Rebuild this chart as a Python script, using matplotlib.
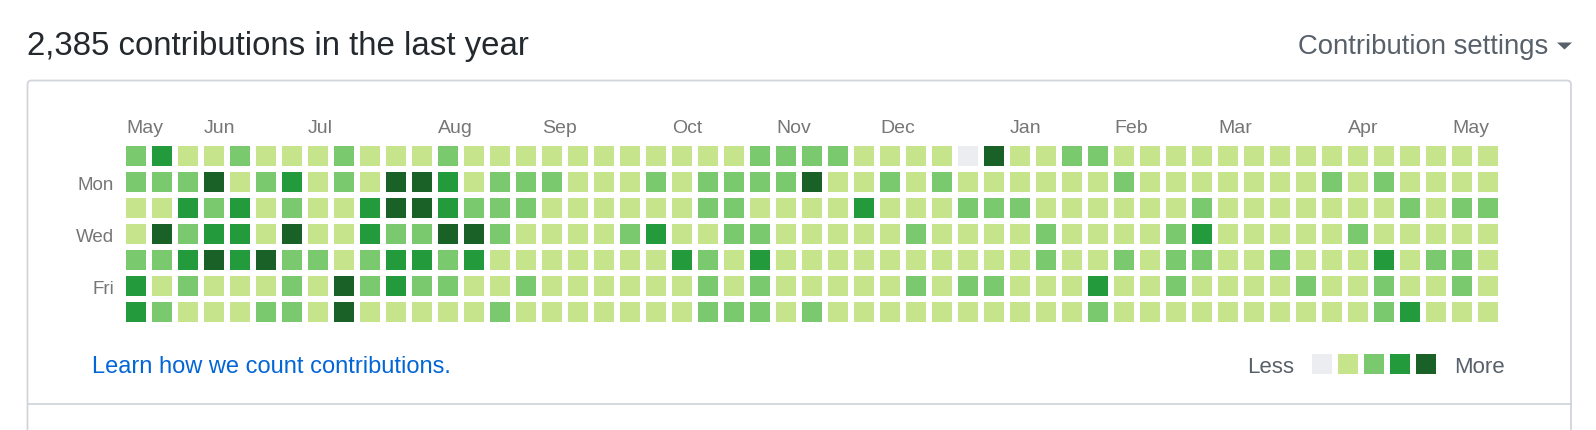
import matplotlib
matplotlib.use("Agg")
import matplotlib.pyplot as plt
from matplotlib.patches import Rectangle, FancyBboxPatch, Polygon
from matplotlib.collections import PatchCollection

# ------------------------------------------------------------
# Contribution levels (0 = none ... 4 = most), one list per weekday,
# 53 weeks from May to May
# ------------------------------------------------------------
sun = [2, 3, 1, 1, 2, 1, 1, 1, 2, 1, 1, 1, 2,
       1, 1, 1, 1, 1, 1, 1, 1, 1, 1, 1, 2, 2,
       2, 2, 1, 1, 1, 1, 0, 4, 1, 1, 2, 2, 1,
       1, 1, 1, 1, 1, 1, 1, 1, 1, 1, 1, 1, 1, 1]
mon = [2, 2, 2, 4, 1, 2, 3, 1, 2, 1, 4, 4, 3,
       1, 2, 2, 2, 1, 1, 1, 2, 1, 2, 2, 2, 2,
       4, 1, 1, 2, 1, 2, 1, 1, 1, 1, 1, 1, 2,
       1, 1, 1, 1, 1, 1, 1, 2, 1, 2, 1, 1, 1, 1]
tue = [1, 1, 3, 2, 3, 1, 2, 1, 1, 3, 4, 4, 3,
       2, 2, 2, 1, 1, 1, 1, 1, 1, 2, 2, 1, 1,
       1, 1, 3, 1, 1, 1, 2, 2, 2, 1, 1, 1, 1,
       1, 1, 2, 1, 1, 1, 1, 1, 1, 1, 2, 1, 2, 2]
wed = [1, 4, 2, 3, 3, 1, 4, 1, 1, 3, 2, 2, 4,
       4, 2, 1, 1, 1, 1, 2, 3, 1, 1, 2, 2, 1,
       1, 1, 1, 1, 2, 1, 1, 1, 1, 2, 1, 1, 1,
       1, 2, 3, 1, 1, 1, 1, 1, 2, 1, 1, 1, 1, 1]
thu = [2, 2, 3, 4, 3, 4, 2, 2, 1, 2, 3, 3, 2,
       3, 1, 1, 1, 1, 1, 1, 1, 3, 2, 1, 3, 1,
       1, 1, 1, 1, 1, 1, 1, 1, 1, 2, 1, 1, 2,
       1, 2, 2, 1, 1, 2, 1, 1, 1, 3, 1, 2, 2, 1]
fri = [3, 1, 2, 1, 1, 1, 2, 1, 4, 2, 3, 2, 2,
       1, 1, 2, 1, 1, 1, 1, 1, 1, 2, 1, 2, 1,
       1, 1, 1, 1, 2, 1, 2, 2, 1, 1, 1, 3, 1,
       1, 2, 1, 1, 1, 1, 2, 1, 1, 2, 1, 1, 2, 1]
sat = [3, 2, 1, 1, 1, 2, 2, 1, 4, 1, 1, 1, 1,
       1, 2, 1, 1, 1, 1, 1, 1, 1, 2, 2, 2, 1,
       2, 1, 1, 1, 1, 1, 1, 1, 1, 1, 1, 2, 1,
       1, 1, 1, 1, 1, 1, 1, 1, 1, 2, 3, 1, 1, 1]
days = [sun, mon, tue, wed, thu, fri, sat]

month_names = ["May", "Jun", "Jul", "Aug", "Sep", "Oct", "Nov",
               "Dec", "Jan", "Feb", "Mar", "Apr", "May"]
month_weeks = [0, 3, 7, 12, 16, 21, 25, 29, 34, 38, 42, 47, 51]
day_labels = {1: "Mon", 3: "Wed", 5: "Fri"}

level_colors = ["#ebedf0", "#c6e48b", "#7bc96f", "#239a3b", "#196127"]
total = "2,385"

# ------------------------------------------------------------
# Figure (pixel sized) and background axes in pixel coordinates
# ------------------------------------------------------------
W, H = 1596, 431
plt.rcParams["font.family"] = ["Liberation Sans", "DejaVu Sans"]
fig = plt.figure(figsize=(W / 100, H / 100), dpi=100)
bg = fig.add_axes([0, 0, 1, 1])
bg.set_xlim(0, W)
bg.set_ylim(H, 0)
bg.axis("off")

# header
bg.text(27, 55, f"{total} contributions in the last year", fontsize=23.8,
        color="#24292e", va="baseline", ha="left")
bg.text(1548, 54, "Contribution settings", fontsize=19.8,
        color="#586069", va="baseline", ha="right")
bg.add_patch(Polygon([(1557, 43.5), (1572, 43.5), (1564.5, 50.5)],
                     closed=True, fc="#586069", ec="none"))

# outer box + separator line
box = FancyBboxPatch((27.5, 81.5), 1543.5, 400, boxstyle="round,pad=0,rounding_size=4",
                     fc="white", ec="#d1d5da", lw=1.3, zorder=0)
bg.add_patch(box)
bg.plot([27.5, 1571], [405.5, 405.5], color="#d1d5da", lw=1.3)

# footer
bg.text(92, 373, "Learn how we count contributions.", fontsize=17,
        color="#0366d6", va="baseline", ha="left")
bg.text(1294, 373, "Less", fontsize=16, color="#586069", va="baseline", ha="right")
bg.text(1454, 373, "More", fontsize=16, color="#586069", va="baseline", ha="left")
leg_cells = [Rectangle((1312 + 26 * i, 355), 20, 20) for i in range(len(level_colors))]
bg.add_collection(PatchCollection(leg_cells, facecolors=level_colors, edgecolors="none"))

# ------------------------------------------------------------
# Grid axes: x = week index, y = weekday index
# ------------------------------------------------------------
n_weeks = len(sun)
pitch = 26
x0, y0 = 126, 147
ax = fig.add_axes([x0 / W, 1 - (y0 + 7 * pitch) / H, n_weeks * pitch / W, 7 * pitch / H])
ax.set_xlim(0, n_weeks)
ax.set_ylim(7, 0)
ax.axis("off")

size = 20 / pitch
cells, colors = [], []
for r, row in enumerate(days):
    for c, lvl in enumerate(row):
        cells.append(Rectangle((c, r), size, size))
        colors.append(level_colors[lvl])
ax.add_collection(PatchCollection(cells, facecolors=colors, edgecolors="none"))

for name, wk in zip(month_names, month_weeks):
    ax.text(wk, -0.55, name, fontsize=14, color="#767676",
            va="baseline", ha="left", clip_on=False)
for r, name in day_labels.items():
    ax.text(-0.46, r + 0.66, name, fontsize=13.5, color="#767676",
            va="baseline", ha="right", clip_on=False)

fig.savefig("out.png", dpi=100, facecolor="white")
